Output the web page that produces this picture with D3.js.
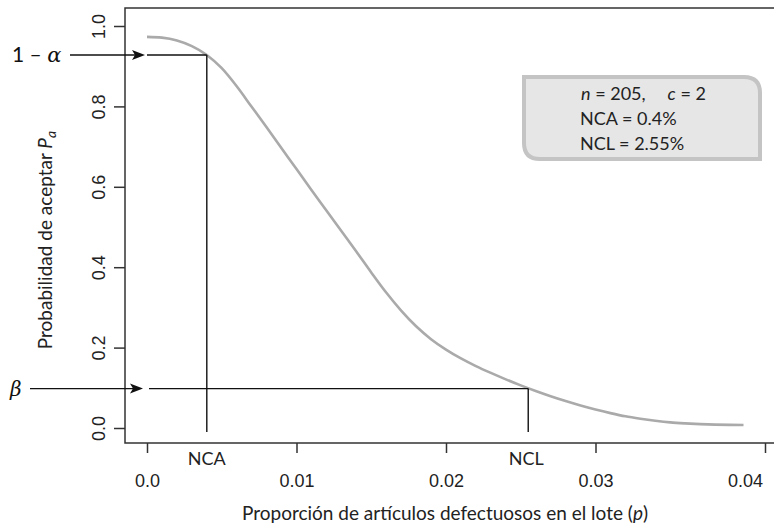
<!DOCTYPE html>
<html>
<head>
<meta charset="utf-8">
<script src="https://cdn.jsdelivr.net/npm/d3@7"></script>
<style>
  html, body { margin: 0; padding: 0; background: #fff; }
  svg { display: block; }
</style>
</head>
<body>
<svg id="chart" width="774" height="531"></svg>
<script>
// ---- data ----
const pValues  = [0, 0.001, 0.002, 0.003, 0.004, 0.005, 0.006, 0.007, 0.008, 0.009, 0.010,
                  0.011, 0.012, 0.013, 0.014, 0.015, 0.016, 0.017, 0.018, 0.019, 0.020,
                  0.021, 0.022, 0.023, 0.024, 0.025, 0.026, 0.027, 0.028, 0.029, 0.030,
                  0.031, 0.032, 0.033, 0.034, 0.035, 0.036, 0.037, 0.038, 0.039, 0.0399];
const paValues = [0.973, 0.971, 0.964, 0.950, 0.928, 0.895, 0.850, 0.799, 0.748, 0.696, 0.644,
                  0.592, 0.541, 0.490, 0.439, 0.387, 0.337, 0.292, 0.253, 0.221, 0.195,
                  0.173, 0.154, 0.137, 0.121, 0.106, 0.092, 0.079, 0.067, 0.056, 0.046,
                  0.037, 0.029, 0.023, 0.018, 0.014, 0.0115, 0.0097, 0.0085, 0.0078, 0.0075];
const xTicks = [0, 0.01, 0.02, 0.03, 0.04];
const xTickLabels = ["0.0", "0.01", "0.02", "0.03", "0.04"];
const yTicks = [0, 0.2, 0.4, 0.6, 0.8, 1.0];
const yTickLabels = ["0.0", "0.2", "0.4", "0.6", "0.8", "1.0"];
const NCA = 0.004, NCL = 0.0255;
const oneMinusAlpha = 0.928, beta = 0.098;

const svg = d3.select("#chart");
const x = d3.scaleLinear().domain([0, 0.04]).range([147, 745]);
const y = d3.scaleLinear().domain([0, 1]).range([428, 26]);

const tickFont = "'Liberation Sans', Arial, sans-serif";
const textFont = "Lato, 'Open Sans', sans-serif";
const frameLeft = 125, frameTop = 8, frameBottom = 443, frameRight = 774;

// frame
svg.append("path")
  .attr("d", `M${frameRight},${frameTop}H${frameLeft}V${frameBottom}H${frameRight}`)
  .attr("fill", "none").attr("stroke", "#333").attr("stroke-width", 1.5);

// x axis
const xa = svg.append("g").attr("transform", `translate(0,${frameBottom})`)
  .call(d3.axisBottom(x).tickValues(xTicks).tickSize(10).tickSizeOuter(0)
        .tickFormat((d, i) => xTickLabels[i]));
xa.select(".domain").remove();
xa.selectAll(".tick line").attr("stroke", "#333").attr("stroke-width", 1.5);
xa.selectAll(".tick text").attr("y", 44).attr("dy", 0)
  .attr("font-family", tickFont).attr("font-size", 18).attr("fill", "#222");
// last tick mark sits at the end of the axis line in the reference
xa.selectAll(".tick").filter(d => d === 0.04).select("line").attr("x1", 20).attr("x2", 20);

// y axis
const ya = svg.append("g").attr("transform", `translate(${frameLeft},0)`)
  .call(d3.axisLeft(y).tickValues(yTicks).tickSize(11).tickSizeOuter(0)
        .tickFormat((d, i) => yTickLabels[i]));
ya.select(".domain").remove();
ya.selectAll(".tick line").attr("stroke", "#333").attr("stroke-width", 1.5);
ya.selectAll(".tick text")
  .attr("x", null).attr("dy", null)
  .attr("transform", "translate(-20,0) rotate(-90)")
  .attr("text-anchor", "middle")
  .attr("font-family", tickFont).attr("font-size", 18).attr("fill", "#222");

// OC curve
const line = d3.line().x((d, i) => x(pValues[i])).y((d, i) => y(paValues[i])).curve(d3.curveMonotoneX);
svg.append("path").datum(pValues).attr("d", line)
  .attr("fill", "none").attr("stroke", "#aaaaaa").attr("stroke-width", 2.6);

// reference lines
const ref = svg.append("g").attr("stroke", "#111").attr("stroke-width", 1.4).attr("fill", "none");
ref.append("line").attr("x1", x(0)).attr("x2", x(NCA)).attr("y1", y(oneMinusAlpha)).attr("y2", y(oneMinusAlpha));
ref.append("line").attr("x1", x(NCA)).attr("x2", x(NCA)).attr("y1", y(oneMinusAlpha)).attr("y2", 432);
ref.append("line").attr("x1", x(0) + 2).attr("x2", x(NCL)).attr("y1", y(beta)).attr("y2", y(beta));
ref.append("line").attr("x1", x(NCL)).attr("x2", x(NCL)).attr("y1", y(beta)).attr("y2", 432);

// arrows
function arrow(x0, x1, yy) {
  svg.append("line").attr("x1", x0).attr("x2", x1 - 6).attr("y1", yy).attr("y2", yy)
    .attr("stroke", "#111").attr("stroke-width", 1.4);
  svg.append("path")
    .attr("d", `M${x1},${yy} L${x1 - 13},${yy - 5} L${x1 - 10},${yy} L${x1 - 13},${yy + 5} Z`)
    .attr("fill", "#111");
}
arrow(70, 145, y(oneMinusAlpha));
arrow(30, 143, y(beta));

// left labels
const la = svg.append("text").attr("x", 12).attr("y", y(oneMinusAlpha) + 7)
  .attr("font-family", textFont).attr("font-size", 21).attr("fill", "#111");
la.append("tspan").text("1 \u2013 ");
la.append("tspan").attr("font-style", "italic").attr("font-family", "'DejaVu Serif', serif").text("\u03b1");
svg.append("text").attr("x", 10).attr("y", y(beta) + 7)
  .attr("font-family", "'DejaVu Serif', serif").attr("font-style", "italic")
  .attr("font-size", 20).attr("fill", "#111").text("\u03b2");

// NCA / NCL labels
svg.append("text").attr("x", x(NCA)).attr("y", 465).attr("text-anchor", "middle")
  .attr("font-family", textFont).attr("font-size", 18).attr("fill", "#222").text("NCA");
svg.append("text").attr("x", x(NCL) - 2).attr("y", 465).attr("text-anchor", "middle")
  .attr("font-family", textFont).attr("font-size", 18).attr("fill", "#222").text("NCL");

// axis titles
const xt = svg.append("text").attr("x", 445).attr("y", 520).attr("text-anchor", "middle")
  .attr("font-family", textFont).attr("font-size", 19).attr("fill", "#222");
xt.append("tspan").text("Proporción de artículos defectuosos en el lote (");
xt.append("tspan").attr("font-style", "italic").text("p");
xt.append("tspan").text(")");

const yt = svg.append("text").attr("transform", "translate(52,240) rotate(-90)").attr("text-anchor", "middle")
  .attr("font-family", textFont).attr("font-size", 19).attr("fill", "#222");
yt.append("tspan").text("Probabilidad de aceptar ");
yt.append("tspan").attr("font-style", "italic").text("P");
yt.append("tspan").attr("font-style", "italic").attr("font-size", 14).attr("dy", 4).text("a");

// info box
const bx0 = 524, by0 = 77, bx1 = 760, by1 = 159, r = 16;
svg.append("path")
  .attr("d", `M${bx0},${by0} H${bx1 - r} Q${bx1},${by0} ${bx1},${by0 + r} V${by1} H${bx0 + r} Q${bx0},${by1} ${bx0},${by1 - r} Z`)
  .attr("fill", "#e6e6e6").attr("stroke", "#c4c4c4").attr("stroke-width", 4);
const bt = svg.append("g").attr("font-family", textFont).attr("font-size", 18).attr("fill", "#222");
const l1 = bt.append("text").attr("x", 581).attr("y", 100);
l1.append("tspan").attr("font-style", "italic").text("n");
l1.append("tspan").text(" = 205,");
l1.append("tspan").attr("dx", 22).attr("font-style", "italic").text("c");
l1.append("tspan").text(" = 2");
bt.append("text").attr("x", 580).attr("y", 125).text("NCA = 0.4%");
bt.append("text").attr("x", 580).attr("y", 150).text("NCL = 2.55%");
</script>
</body>
</html>
